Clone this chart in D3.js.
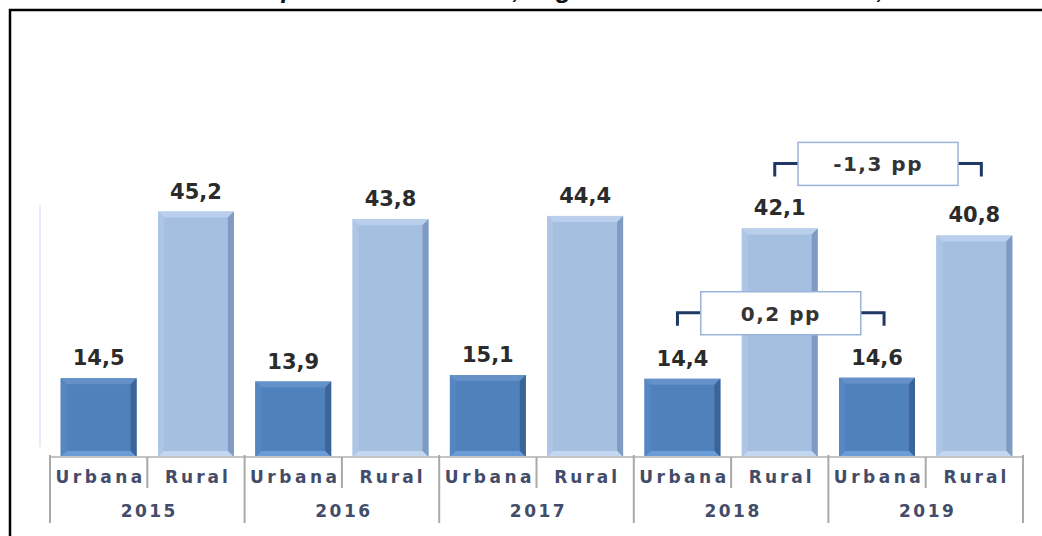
<!DOCTYPE html>
<html>
<head>
<meta charset="utf-8">
<script src="https://cdn.jsdelivr.net/npm/d3@7"></script>
<style>
  body { margin: 0; background: #fff; }
  svg { display: block; }
</style>
</head>
<body>
<script>
// data
var years = ["2015", "2016", "2017", "2018", "2019"];
var areas = ["Urbana", "Rural"];
var urbana = [14.5, 13.9, 15.1, 14.4, 14.6];
var rural = [45.2, 43.8, 44.4, 42.1, 40.8];
var diffLabels = ["0,2 pp", "-1,3 pp"];   // 2018 -> 2019, one per area
var title = "Taxa de pobreza monetária, segundo meio de residência, 2015-2019";

var width = 1042,
    height = 536;

var svg = d3.select("body").append("svg")
    .attr("width", width)
    .attr("height", height);

var colors = {
  Urbana: { main: "#4f81bd", top: "#6591c9", right: "#3b6498", left: "#5687c3", bottom: "#6a9dd8" },
  Rural:  { main: "#a5bfe1", top: "#b9cfeb", right: "#7f9bc3", left: "#adc6e6", bottom: "#c3d7f1" }
};

// title sits above the frame, only descenders show
var t = svg.append("text")
    .attr("x", 100)
    .attr("y", -2.5)
    .attr("font-family", "Liberation Sans, Arial, sans-serif")
    .attr("font-size", 26)
    .attr("font-style", "italic")
    .attr("font-weight", "bold")
    .attr("fill", "#111")
    .text(title);
var gi = title.indexOf("g");
var gx = t.node().getStartPositionOfChar(gi).x;
t.attr("x", 100 + (556 - gx));

// frame
svg.append("rect")
    .attr("x", 10).attr("y", 10)
    .attr("width", 1200).attr("height", 700)
    .attr("fill", "none")
    .attr("stroke", "#000")
    .attr("stroke-width", 2.5);

// scales
var x0 = d3.scaleBand().domain(years).range([50, 1023]).padding(0);
var x1 = d3.scaleBand().domain(areas).range([0, x0.bandwidth()])
    .paddingInner(0.22).paddingOuter(0.11);
var y = d3.scaleLinear().domain([0, 50]).range([457, 185.5]);

// faint value axis
svg.append("line")
    .attr("x1", 40).attr("x2", 40)
    .attr("y1", 205).attr("y2", 447)
    .attr("stroke", "#dde9f6").attr("stroke-width", 1.5);

var rows = [];
years.forEach(function(yr, i) {
  rows.push({ year: yr, area: "Urbana", value: urbana[i] });
  rows.push({ year: yr, area: "Rural", value: rural[i] });
});

var bev = 6;
var bars = svg.append("g").selectAll("g.bar")
    .data(rows)
  .enter().append("g").attr("class", "bar");

bars.each(function(d) {
  var g = d3.select(this);
  var bx = x0(d.year) + x1(d.area),
      bw = x1.bandwidth(),
      by = y(d.value),
      bh = y(0) - by,
      c = colors[d.area];
  g.append("rect")
      .attr("x", bx).attr("y", by)
      .attr("width", bw).attr("height", bh)
      .attr("fill", c.main);
  // bevel edges
  var x2 = bx + bw, y2 = by + bh;
  g.append("polygon").attr("fill", c.top)
      .attr("points", [[bx, by], [x2, by], [x2 - bev, by + bev], [bx + bev, by + bev]].join(" "));
  g.append("polygon").attr("fill", c.left)
      .attr("points", [[bx, by], [bx + bev, by + bev], [bx + bev, y2 - bev], [bx, y2]].join(" "));
  g.append("polygon").attr("fill", c.right)
      .attr("points", [[x2, by], [x2, y2], [x2 - bev, y2 - bev], [x2 - bev, by + bev]].join(" "));
  g.append("polygon").attr("fill", c.bottom)
      .attr("points", [[bx, y2], [x2, y2], [x2 - bev, y2 - bev], [bx + bev, y2 - bev]].join(" "));
  // value label
  g.append("text")
      .attr("x", bx + bw / 2)
      .attr("y", by - 13)
      .attr("text-anchor", "middle")
      .attr("font-family", "DejaVu Sans, sans-serif")
      .attr("font-weight", "bold")
      .attr("font-size", 21)
      .attr("fill", "#2b2b2b")
      .text(String(d.value).replace(".", ","));
});

// category axis (two levels)
var axis = svg.append("g");
axis.append("line")
    .attr("x1", 50).attr("x2", 1023)
    .attr("y1", 457).attr("y2", 457)
    .attr("stroke", "#c4c4c4").attr("stroke-width", 2);

var bounds = years.map(function(yr) { return x0(yr); }).concat([x0.range()[1]]);
axis.selectAll("line.yb")
    .data(bounds)
  .enter().append("line").attr("class", "yb")
    .attr("x1", function(d) { return d; }).attr("x2", function(d) { return d; })
    .attr("y1", 455).attr("y2", 523)
    .attr("stroke", "#a9a9a9").attr("stroke-width", 2);

axis.selectAll("line.mid")
    .data(years)
  .enter().append("line").attr("class", "mid")
    .attr("x1", function(d) { return x0(d) + x0.bandwidth() / 2; })
    .attr("x2", function(d) { return x0(d) + x0.bandwidth() / 2; })
    .attr("y1", 457).attr("y2", 488)
    .attr("stroke", "#a9a9a9").attr("stroke-width", 2);

axis.selectAll("text.area")
    .data(rows)
  .enter().append("text").attr("class", "area")
    .attr("x", function(d) { return x0(d.year) + x1(d.area) + x1.bandwidth() / 2 + 2; })
    .attr("y", 483)
    .attr("text-anchor", "middle")
    .attr("font-family", "DejaVu Sans, sans-serif")
    .attr("font-weight", "bold")
    .attr("font-size", 17)
    .attr("letter-spacing", function(d) { return d.area === "Urbana" ? 3.5 : 3; })
    .attr("fill", "#434c68")
    .text(function(d) { return d.area; });

axis.selectAll("text.year")
    .data(years)
  .enter().append("text").attr("class", "year")
    .attr("x", function(d) { return x0(d) + x0.bandwidth() / 2 + 2; })
    .attr("y", 517)
    .attr("text-anchor", "middle")
    .attr("font-family", "DejaVu Sans, sans-serif")
    .attr("font-weight", "bold")
    .attr("font-size", 17)
    .attr("letter-spacing", 2.5)
    .attr("fill", "#434c68")
    .text(function(d) { return d; });

// difference brackets 2018 -> 2019
areas.forEach(function(area, i) {
  var vals = area === "Urbana" ? urbana : rural;
  var a = x0("2018") + x1(area) + x1.bandwidth() / 2 - 5,
      b = x0("2019") + x1(area) + x1.bandwidth() / 2 + 7,
      top = y(d3.max([vals[3], vals[4]])) - 52,
      hy = top - 13,
      mid = (a + b) / 2;
  var g = svg.append("g");
  g.append("path")
      .attr("d", "M" + a + "," + top + "V" + hy + "H" + b + "V" + top)
      .attr("fill", "none")
      .attr("stroke", "#1f3864")
      .attr("stroke-width", 3);
  g.append("rect")
      .attr("x", mid - 80).attr("y", hy - 21)
      .attr("width", 160).attr("height", 43)
      .attr("fill", "#fff")
      .attr("stroke", "#9ab3d8")
      .attr("stroke-width", 1.5);
  g.append("text")
      .attr("x", mid)
      .attr("y", hy + 8)
      .attr("text-anchor", "middle")
      .attr("font-family", "DejaVu Sans, sans-serif")
      .attr("font-weight", "bold")
      .attr("font-size", 20)
      .attr("letter-spacing", 1.5)
      .attr("fill", "#333")
      .text(diffLabels[i]);
});
</script>
</body>
</html>
